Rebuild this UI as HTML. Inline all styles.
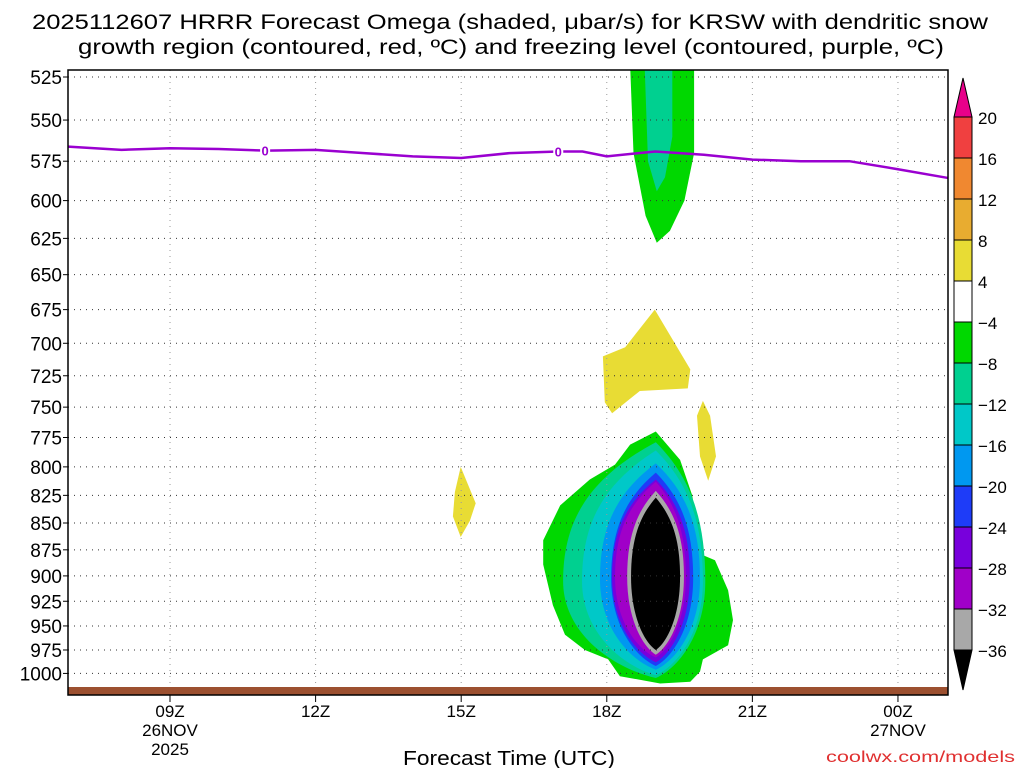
<!DOCTYPE html>
<html><head><meta charset="utf-8"><style>
body{margin:0;background:#fff;}
svg{display:block;font-family:"Liberation Sans",sans-serif;}
</style></head><body>
<svg id="c" width="1024" height="768" xmlns="http://www.w3.org/2000/svg">
<text x="510" y="29" text-anchor="middle" font-size="21" textLength="956" lengthAdjust="spacingAndGlyphs">2025112607 HRRR Forecast Omega (shaded, μbar/s) for KRSW with dendritic snow</text>
<text x="511" y="54" text-anchor="middle" font-size="21" textLength="866" lengthAdjust="spacingAndGlyphs">growth region (contoured, red, ºC) and freezing level (contoured, purple, ºC)</text>
<text x="509" y="765" text-anchor="middle" font-size="20" textLength="212" lengthAdjust="spacingAndGlyphs">Forecast Time (UTC)</text>
<text x="1015" y="762" text-anchor="end" font-size="16" fill="#e03030" textLength="189" lengthAdjust="spacingAndGlyphs">coolwx.com/models</text>
<g id="plot"></g>
</svg>
<script>
const pTicks=[525,550,575,600,625,650,675,700,725,750,775,800,825,850,875,900,925,950,975,1000];
const xTickHours=[9,12,15,18,21,24];
const xTickLabels=["09Z","12Z","15Z","18Z","21Z","00Z"];
const xTickSub1=["26NOV","","","","","27NOV"];
const xTickSub2=["2025","","","","",""];
const cbLevels=[20,16,12,8,4,-4,-8,-12,-16,-20,-24,-28,-32,-36];
const cbColors=["#f04040","#f08830","#e8ac30","#e8dc34","#ffffff","#00d800","#00d090","#00c8c8","#0098f0","#1e3cf8","#7800dc","#a000c8","#a8a8a8"];
const frzHours=[6.9,8,9,10,11,12,13,14,15,16,17,17.5,18,19,20,21,22,23,24,25.03];
const frzP=[566,568,567,567.5,568.5,568,570,572,573,570,569,569,572,569,571,574,575,575,580,585.5];
const frzLabelHours=[10.96,17];
const topGreenH=[18.48,19.80,19.80,19.6,19.3,19.03,18.8,18.55];
const topGreenP=[518,518,570,600,620,628,610,570];
const topTealH=[18.78,19.35,19.35,19.2,19.03,18.85];
const topTealP=[518,518,560,585,594,575];
const yel1H=[18.99,19.72,19.67,18.68,18.11,17.96,17.92,18.38];
const yel1P=[675,720,735,737,755,746,710,703];
const yel2H=[19.98,20.13,20.25,20.09,19.92,19.86];
const yel2P=[745,757,791,812,791,757];
const yel3H=[14.99,15.30,15.18,14.99,14.83,14.87];
const yel3P=[800,832,848,863,844,822];
const blobH=[19.01,19.51,19.76,19.92,19.98,20.23,20.50,20.60,20.50,19.98,19.92,19.72,19.10,18.27,18.03,17.55,17.14,16.89,16.69,16.69,17.04,17.65,18.17,18.48];
const blobP=[770,794,825,866,880,885,914,944,970,985,998,1009,1011,1003,985,975,959,929,889,866,834,811,798,781];
const lensLevel=[-8,-12,-16,-20,-24,-28,-32,-36];
const lensTopP=[779,786,797,805,811,813,821,827];
const lensBotP=[1005,1002,996,992,988,983,980,975];
const lensLeftH=[17.10,17.49,17.86,18.09,18.11,18.17,18.42,18.50];
const lensRightH=[20.03,19.98,19.92,19.78,19.71,19.63,19.59,19.51];
const lensMidP=[905,905,903,902,901,901,901,901];
const lensCenterH=[19.01,19.01,19.01,19.01,19.01,19.01,19.01,19.01];
const lensColors=["#00d090","#00c8c8","#0098f0","#1e3cf8","#7800dc","#a000c8","#a8a8a8","#000000"];

const X0=68,X1=948,Y0=70,Y1=695;
const H0=6.898,PXH=48.53;
const xh=h=>X0+(h-H0)*PXH;
const yp=p=>77+925.6*Math.log(p/525);
const NS="http://www.w3.org/2000/svg";
const g=document.getElementById('plot');
function mk(t,a,parent){const e=document.createElementNS(NS,t);for(const k in a)e.setAttribute(k,a[k]);(parent||g).appendChild(e);return e;}
const clip=mk('clipPath',{id:'pc'});mk('rect',{x:X0,y:Y0,width:X1-X0,height:Y1-Y0},clip);
const data=mk('g',{'clip-path':'url(#pc)'});


function poly(H,P,fill,name){
  const pts=H.map((h,i)=>xh(h).toFixed(1)+','+yp(P[i]).toFixed(1)).join(' ');
  const e=mk('polygon',{points:pts,fill:fill},data);
  
  
}
poly(topGreenH,topGreenP,'#00d800','omega-upper-minus4');
poly(topTealH,topTealP,'#00d090','omega-upper-minus8');
poly(yel1H,yel1P,'#e8dc34','omega-plus4-mid');
poly(yel2H,yel2P,'#e8dc34','omega-plus4-right');
poly(yel3H,yel3P,'#e8dc34','omega-plus4-left');
poly(blobH,blobP,'#00d800','omega-blob-minus4');
lensLevel.forEach((lv,i)=>{
  const cx=xh(lensCenterH[i]),yt=yp(lensTopP[i]),yb=yp(lensBotP[i]),ym=yp(lensMidP[i]);
  const xl=xh(lensLeftH[i]),xr=xh(lensRightH[i]);
  const d=`M${cx},${yt} C${cx+(xr-cx)*0.7},${yt+(ym-yt)*0.25} ${xr},${ym-(ym-yt)*0.45} ${xr},${ym} C${xr},${ym+(yb-ym)*0.55} ${cx+(xr-cx)*0.45},${yb-(yb-ym)*0.1} ${cx},${yb} C${cx-(cx-xl)*0.45},${yb-(yb-ym)*0.1} ${xl},${ym+(yb-ym)*0.55} ${xl},${ym} C${xl},${ym-(ym-yt)*0.45} ${cx-(cx-xl)*0.7},${yt+(ym-yt)*0.25} ${cx},${yt} Z`;
  const e=mk('path',{d:d,fill:lensColors[i]},data);
  
  
});
pTicks.forEach(p=>{
  const e=mk('line',{x1:X0,x2:X1,y1:yp(p),y2:yp(p),stroke:'#333','stroke-width':1,'stroke-dasharray':'1,5'},data);
  
  
});
xTickHours.forEach(h=>{
  const e=mk('line',{x1:xh(h),x2:xh(h),y1:Y0,y2:Y1,stroke:'#999','stroke-width':1,'stroke-dasharray':'1,5'},data);
  
  
});
const gb=mk('rect',{x:X0,y:687,width:X1-X0,height:8,fill:'#9c5030'},data);


const fl=mk('polyline',{points:frzHours.map((h,i)=>xh(h)+','+yp(frzP[i])).join(' '),fill:'none',stroke:'#9a00d0','stroke-width':2.5},data);


frzLabelHours.forEach(h=>{
  let j=0;while(j<frzHours.length-2&&frzHours[j+1]<h)j++;
  const t=(h-frzHours[j])/(frzHours[j+1]-frzHours[j]);const p=frzP[j]+t*(frzP[j+1]-frzP[j]);
  const bg=mk('rect',{x:xh(h)-5,y:yp(p)-7,width:10,height:13,fill:'#fff'},data);
  
  
  const tx=mk('text',{x:xh(h),y:yp(p)+5,'text-anchor':'middle','font-size':13,'font-weight':'bold',fill:'#9a00d0'},data);
  tx.textContent='0';
  
  
});
const fr=mk('rect',{x:X0,y:Y0,width:X1-X0,height:Y1-Y0,fill:'none',stroke:'#000','stroke-width':1.5});


pTicks.forEach(p=>{
  mk('line',{x1:X0-5,x2:X0,y1:yp(p),y2:yp(p),stroke:'#000'});
  const t=mk('text',{x:62,y:yp(p)+7,'text-anchor':'end','font-size':19});
  t.textContent=p;
  
  
});
xTickHours.forEach((h,i)=>{
  mk('line',{x1:xh(h),x2:xh(h),y1:Y1,y2:Y1+7,stroke:'#000'});
  [xTickLabels[i],xTickSub1[i],xTickSub2[i]].forEach((s,k)=>{
    if(!s)return;
    const t=mk('text',{x:xh(h),y:717+k*19,'text-anchor':'middle','font-size':17});
    t.textContent=s;
    
    
  });
});
const cb=mk('g',{});


const CBX=954,CBW=18,CBT=117,CBB=650,step=(CBB-CBT)/cbColors.length;
mk('polygon',{points:`${CBX},${CBT} ${CBX+CBW/2},78 ${CBX+CBW},${CBT}`,fill:'#e8008a',stroke:'#000'},cb);
mk('polygon',{points:`${CBX},${CBB} ${CBX+CBW/2},690 ${CBX+CBW},${CBB}`,fill:'#000',stroke:'#000'},cb);
cbColors.forEach((c,i)=>{
  const r=mk('rect',{x:CBX,y:CBT+i*step,width:CBW,height:step,fill:c,stroke:'#000'},cb);
  
  
});
cbLevels.forEach((v,i)=>{
  const t=mk('text',{x:978,y:CBT+i*step+7,'font-size':17},cb);
  t.textContent=v<0?'\u2212'+(-v):v;
  
  
});
</script>
</body></html>
